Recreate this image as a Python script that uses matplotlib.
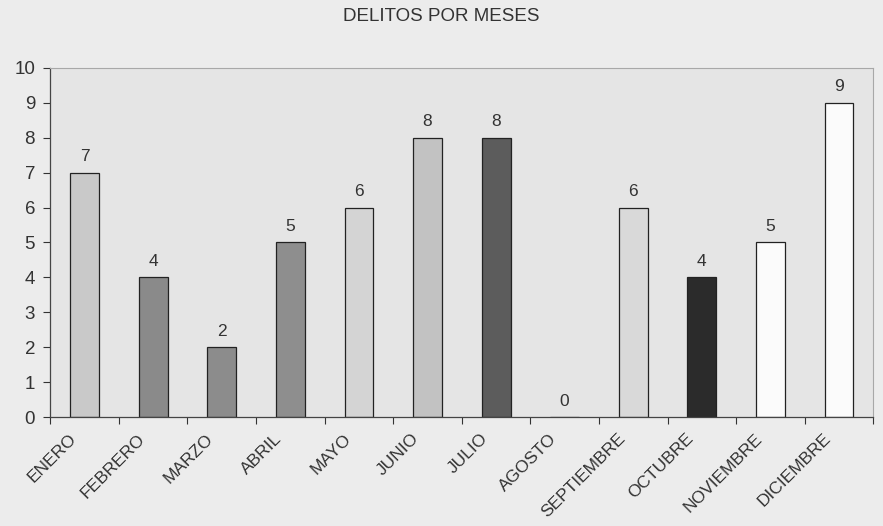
import matplotlib.pyplot as plt
import matplotlib.transforms as mtransforms
import numpy as np

plt.rcParams['font.family'] = ['Liberation Sans', 'DejaVu Sans']

# datos
meses = ["ENERO", "FEBRERO", "MARZO", "ABRIL", "MAYO", "JUNIO",
         "JULIO", "AGOSTO", "SEPTIEMBRE", "OCTUBRE", "NOVIEMBRE", "DICIEMBRE"]
delitos = [7, 4, 2, 5, 6, 8, 8, 0, 6, 4, 5, 9]
colores = ["#c9c9c9", "#8a8a8a", "#8c8c8c", "#8e8e8e", "#d4d4d4", "#c2c2c2",
           "#5c5c5c", "#ffffff", "#d9d9d9", "#2b2b2b", "#fbfbfb", "#fbfbfb"]

fig = plt.figure(figsize=(8.83, 5.26), dpi=100, facecolor="#ececec")
ax = fig.add_axes([0.057, 0.207, 0.932, 0.664])
ax.set_facecolor("#e5e5e5")

x = np.arange(len(meses))
ax.bar(x, delitos, width=0.42, color=colores, edgecolor="#222222",
       linewidth=0.9, zorder=2)

for xi, v in zip(x, delitos):
    ax.annotate(str(v), (xi, v), xytext=(0, 6), textcoords="offset points",
                ha="center", va="bottom", fontsize=12.5, color="#333333")

ax.set_xlim(-0.5, len(meses) - 0.5)
ax.set_ylim(0, 10)
ax.set_yticks(range(0, 11))
ax.tick_params(axis="y", labelsize=13.5, length=5, width=0.8,
               colors="#333333", pad=6)

ax.set_xticks(x)
ax.set_xticklabels(meses, rotation=45, ha="right", rotation_mode="anchor",
                   fontsize=12.5, color="#333333")
ax.tick_params(axis="x", which="major", length=0, pad=10)
ax.set_xticks(np.arange(-0.5, len(meses)), minor=True)
ax.tick_params(axis="x", which="minor", length=5, width=0.8, color="#333333")

# correr las etiquetas un poco a la izquierda, como en el original
shift = mtransforms.ScaledTranslation(-0.16, 0, fig.dpi_scale_trans)
for lbl in ax.get_xticklabels():
    lbl.set_transform(lbl.get_transform() + shift)

for s in ["left", "bottom"]:
    ax.spines[s].set_color("#444444")
    ax.spines[s].set_linewidth(0.9)
for s in ["top", "right"]:
    ax.spines[s].set_color("#a8a8a8")
    ax.spines[s].set_linewidth(0.8)

fig.text(0.5, 0.985, "DELITOS POR MESES", ha="center", va="top",
         fontsize=13.5, color="#333333")

fig.savefig("out.png", dpi=100, facecolor=fig.get_facecolor())
